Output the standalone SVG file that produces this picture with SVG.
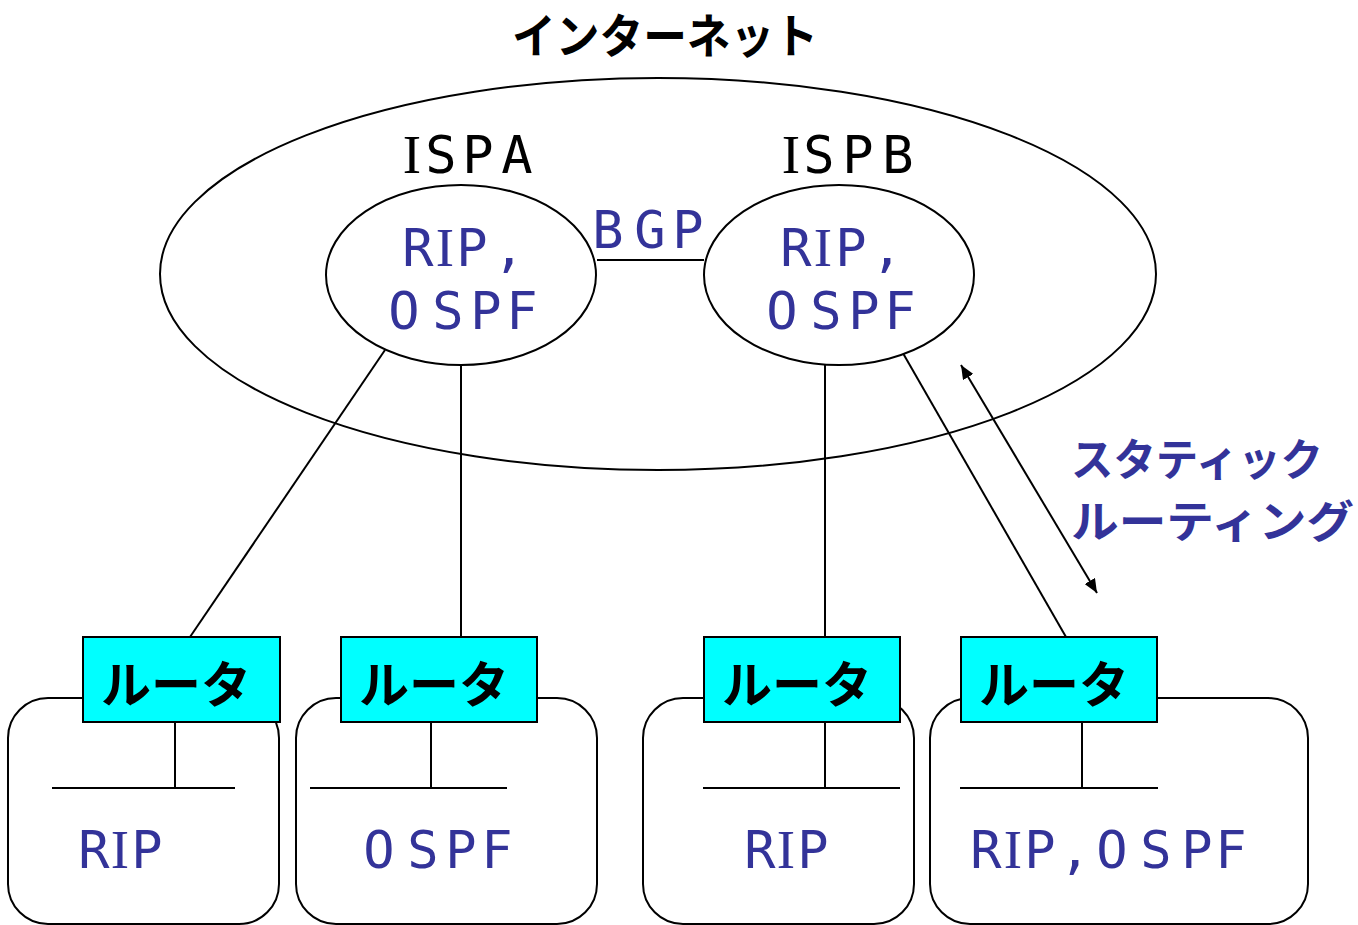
<svg xmlns="http://www.w3.org/2000/svg" width="1358" height="925" viewBox="0 0 1358 925">
<defs>
<style>
.ln{stroke:#000;stroke-width:2;fill:none}
.sh{stroke:#000;stroke-width:2;fill:#fff}
.rt{stroke:#000;stroke-width:2;fill:#00ffff}
.mono{font-family:"DejaVu Sans Mono","Liberation Mono",monospace;font-size:52px;text-anchor:middle}
.i{font-family:"Liberation Serif",serif;font-size:55px}
.blue{fill:#333399}
.blk{fill:#000}
.jp{font-family:"Noto Sans CJK JP","Noto Sans",sans-serif;font-weight:bold}
.rl{font-size:50px;text-anchor:middle}
</style>
<marker id="ah" viewBox="0 0 14 12" refX="14" refY="6" markerWidth="14" markerHeight="12" markerUnits="userSpaceOnUse" orient="auto-start-reverse">
<path d="M0,0 L14,6 L0,12 z" fill="#000"/>
</marker>
</defs>
<rect width="1358" height="925" fill="#fff"/>

<g id="internet">
<ellipse cx="658" cy="274" rx="498" ry="196" class="ln"/>
<text x="665" y="53" text-anchor="middle" class="jp blk" font-size="47" textLength="306" lengthAdjust="spacingAndGlyphs">インターネット</text>
</g>

<g id="lan1">
<rect x="8" y="698" width="271" height="226" rx="40" class="sh"/>
<line x1="52" y1="788" x2="235" y2="788" class="ln"/>
<line x1="175" y1="722" x2="175" y2="788" class="ln"/>
<text y="868" class="mono blue"><tspan x="94">R</tspan><tspan x="120" class="i">I</tspan><tspan x="147">P</tspan></text>
</g>
<g id="lan2">
<rect x="296" y="698" width="301" height="226" rx="40" class="sh"/>
<line x1="310" y1="788" x2="507" y2="788" class="ln"/>
<line x1="431" y1="722" x2="431" y2="788" class="ln"/>
<text x="379 423 461 497" y="868" class="mono blue">OSPF</text>
</g>
<g id="lan3">
<rect x="643" y="698" width="271" height="226" rx="40" class="sh"/>
<line x1="703" y1="788" x2="900" y2="788" class="ln"/>
<line x1="825" y1="722" x2="825" y2="788" class="ln"/>
<text y="868" class="mono blue"><tspan x="760">R</tspan><tspan x="786" class="i">I</tspan><tspan x="813">P</tspan></text>
</g>
<g id="lan4">
<rect x="930" y="698" width="378" height="226" rx="40" class="sh"/>
<line x1="960" y1="788" x2="1158" y2="788" class="ln"/>
<line x1="1082" y1="722" x2="1082" y2="788" class="ln"/>
<text y="868" class="mono blue"><tspan x="986">R</tspan><tspan x="1013" class="i">I</tspan><tspan x="1040 1075 1112 1156 1197 1231">P,OSPF</tspan></text>
</g>

<g id="connectors">
<line x1="597" y1="260" x2="704" y2="260" class="ln"/>
<line x1="385" y1="350" x2="190" y2="637" class="ln"/>
<line x1="461" y1="365" x2="461" y2="637" class="ln"/>
<line x1="825" y1="365" x2="825" y2="637" class="ln"/>
<line x1="900" y1="348" x2="1066" y2="637" class="ln"/>
<line x1="961" y1="365" x2="1097" y2="593" class="ln" marker-start="url(#ah)" marker-end="url(#ah)"/>
</g>

<g id="ispa">
<ellipse cx="461" cy="275" rx="135" ry="90" class="sh"/>
<text y="173" class="mono blk"><tspan x="412" class="i">I</tspan><tspan x="441 478 517">SPA</tspan></text>
<text y="266" class="mono blue"><tspan x="418">R</tspan><tspan x="445" class="i">I</tspan><tspan x="472 509">P,</tspan></text>
<text x="404 448 486 522" y="329" class="mono blue">OSPF</text>
</g>
<g id="ispb">
<ellipse cx="839" cy="275" rx="135" ry="90" class="sh"/>
<text y="173" class="mono blk"><tspan x="791" class="i">I</tspan><tspan x="819 858 898">SPB</tspan></text>
<text y="266" class="mono blue"><tspan x="796">R</tspan><tspan x="823" class="i">I</tspan><tspan x="851 887">P,</tspan></text>
<text x="782 826 864 900" y="329" class="mono blue">OSPF</text>
</g>
<g id="bgp">
<text x="608 650 688" y="248" class="mono blue">BGP</text>
</g>

<g id="router1">
<rect x="83" y="637" width="197" height="85" class="rt"/>
<text x="176" y="703" class="jp blk rl">ルータ</text>
</g>
<g id="router2">
<rect x="341" y="637" width="196" height="85" class="rt"/>
<text x="434" y="703" class="jp blk rl">ルータ</text>
</g>
<g id="router3">
<rect x="704" y="637" width="196" height="85" class="rt"/>
<text x="797" y="703" class="jp blk rl">ルータ</text>
</g>
<g id="router4">
<rect x="961" y="637" width="196" height="85" class="rt"/>
<text x="1054" y="703" class="jp blk rl">ルータ</text>
</g>

<g id="static">
<text x="1071" y="476" class="jp blue" font-size="44" textLength="252" lengthAdjust="spacingAndGlyphs">スタティック</text>
<text x="1071" y="538" class="jp blue" font-size="44" textLength="283" lengthAdjust="spacingAndGlyphs">ルーティング</text>
</g>
</svg>
